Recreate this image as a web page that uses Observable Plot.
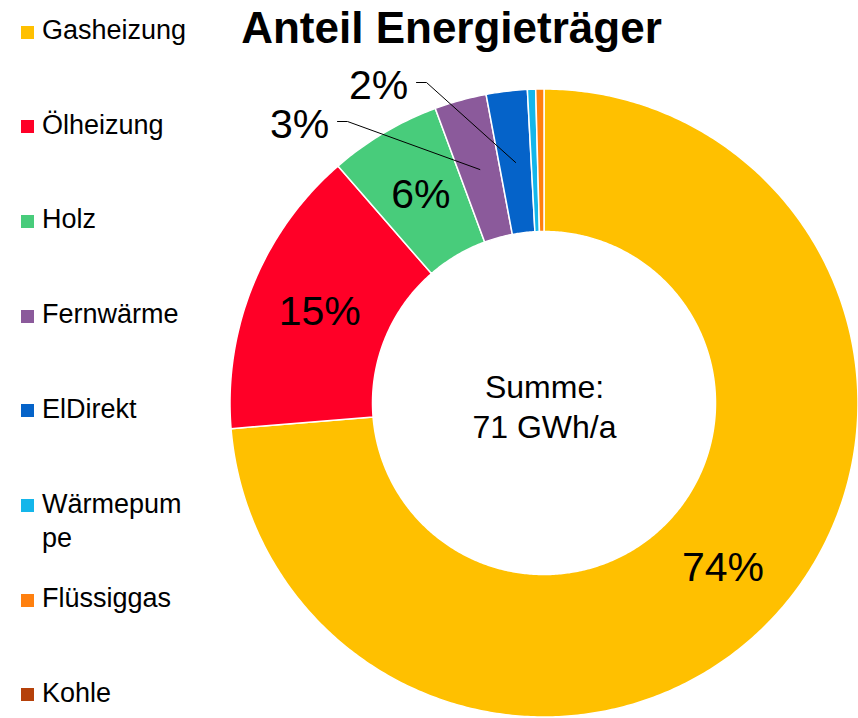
<!DOCTYPE html>
<html>
<head>
<meta charset="utf-8">
<script src="https://cdn.jsdelivr.net/npm/d3@7"></script>
<script src="https://cdn.jsdelivr.net/npm/@observablehq/plot@0.6"></script>
<style>
  html, body { margin: 0; padding: 0; background: #fff; }
  #wrap { position: relative; width: 858px; height: 718px; overflow: hidden; font-family: "Liberation Sans", Arial, sans-serif; }
  #title { position: absolute; left: 0; width: 903px; top: 6px; text-align: center; font-weight: bold; font-size: 44px; line-height: 44px; color: #000; white-space: nowrap; }
  .leg { position: absolute; left: 21px; width: 190px; }
  .leg .sw { position: absolute; left: 0; width: 13px; height: 13px; }
  .leg .tx { position: absolute; left: 21px; width: 148px; font-size: 27px; line-height: 34px; color: #000; word-break: break-all; }
  #chart { position: absolute; left: 0; top: 0; }
</style>
</head>
<body>
<div id="wrap">
  <div id="chart"></div>
  <div id="title"></div>
  <div id="legend"></div>
</div>
<script>
// ---- data ----
const categories = ["Gasheizung", "Ölheizung", "Holz", "Fernwärme", "ElDirekt", "Wärmepumpe", "Flüssiggas", "Kohle"];
const valuesGWh  = [52.4, 10.6, 4.1, 1.9, 1.5, 0.3, 0.3, 0.0];
const colors     = ["#FFC000", "#FF0027", "#48CC7B", "#8B5A9B", "#0563C9", "#14B6EA", "#FF800F", "#B5410A"];
const titleText  = "Anteil Energieträger";
const centerLabel = "Summe:";
const unitLabel  = "GWh/a";

// ---- layout (pixels) ----
const W = 858, H = 718;
const cx = 544, cy = 403, R = 314, r0 = 171.5;
// outside labels for small slices: offset of label centre from chart centre (px)
const outsideLabelPos = { "Fernwärme": [-245, -279], "ElDirekt": [-166, -318] };

document.getElementById("title").textContent = titleText;

const total = d3.sum(valuesGWh);
const slices = categories.map((name, i) => ({ name, value: valuesGWh[i] }));
let acc = 0;
for (const s of slices) {
  s.a0 = acc / total * 2 * Math.PI;
  acc += s.value;
  s.a1 = acc / total * 2 * Math.PI;
  s.pct = Math.round(s.value / total * 100);
}

// annular sector outlines in unit coordinates (outer radius = 1)
const rin = r0 / R;
const arcPts = [];
for (const s of slices) {
  if (s.value <= 0) continue;
  const n = Math.max(2, Math.ceil((s.a1 - s.a0) / 0.01));
  for (let k = 0; k <= n; k++) {
    const a = s.a0 + (s.a1 - s.a0) * k / n;
    arcPts.push({ name: s.name, ox: Math.sin(a), oy: Math.cos(a), ix: rin * Math.sin(a), iy: rin * Math.cos(a) });
  }
}

const rm = (1 + rin) / 2;
const inside = [], outside = [], leaders = [];
for (const s of slices) {
  if (s.pct < 1) continue;
  const am = (s.a0 + s.a1) / 2;
  const px = rm * Math.sin(am), py = rm * Math.cos(am);
  const lp = outsideLabelPos[s.name];
  if (lp) {
    const lx = lp[0] / R, ly = -lp[1] / R;
    outside.push({ x: lx, y: ly, t: s.pct + "%" });
    leaders.push({ id: s.name, x: lx + 38 / R, y: ly + 3 / R });
    leaders.push({ id: s.name, x: lx + 48 / R, y: ly + 3 / R });
    leaders.push({ id: s.name, x: px, y: py });
  } else {
    inside.push({ x: px, y: py, t: s.pct + "%" });
  }
}

const font = "Liberation Sans, Arial, sans-serif";
const chart = Plot.plot({
  width: W, height: H, margin: 0,
  style: { fontFamily: font, background: "transparent" },
  x: { domain: [-cx / R, (W - cx) / R], axis: null },
  y: { domain: [-(H - cy) / R, cy / R], axis: null },
  color: { domain: categories, range: colors },
  marks: [
    Plot.area(arcPts, { x1: "ox", y1: "oy", x2: "ix", y2: "iy", z: "name", fill: "name", stroke: "white", strokeWidth: 1.5 }),
    Plot.text(inside, { x: "x", y: "y", text: "t", fontSize: 41, fill: "black" }),
    Plot.text(outside, { x: "x", y: "y", text: "t", fontSize: 41, fill: "black" }),
    Plot.line(leaders, { x: "x", y: "y", z: "id", stroke: "black", strokeWidth: 1 }),
    Plot.text([centerLabel + "\n" + Math.round(total) + " " + unitLabel], { x: 0, y: -2 / R, text: d => d, fontSize: 32, lineHeight: 1.25, fill: "black" })
  ]
});
document.getElementById("chart").appendChild(chart);

// legend
const legend = document.getElementById("legend");
categories.forEach((name, i) => {
  const yc = 30 + i * 94.7;
  const item = document.createElement("div");
  item.className = "leg";
  item.style.top = (yc - 17) + "px";
  const sw = document.createElement("div");
  sw.className = "sw";
  sw.style.background = colors[i];
  sw.style.top = (17 - 6.5 + 2) + "px";
  const tx = document.createElement("div");
  tx.className = "tx";
  tx.textContent = name;
  item.appendChild(sw);
  item.appendChild(tx);
  legend.appendChild(item);
});
</script>
</body>
</html>
